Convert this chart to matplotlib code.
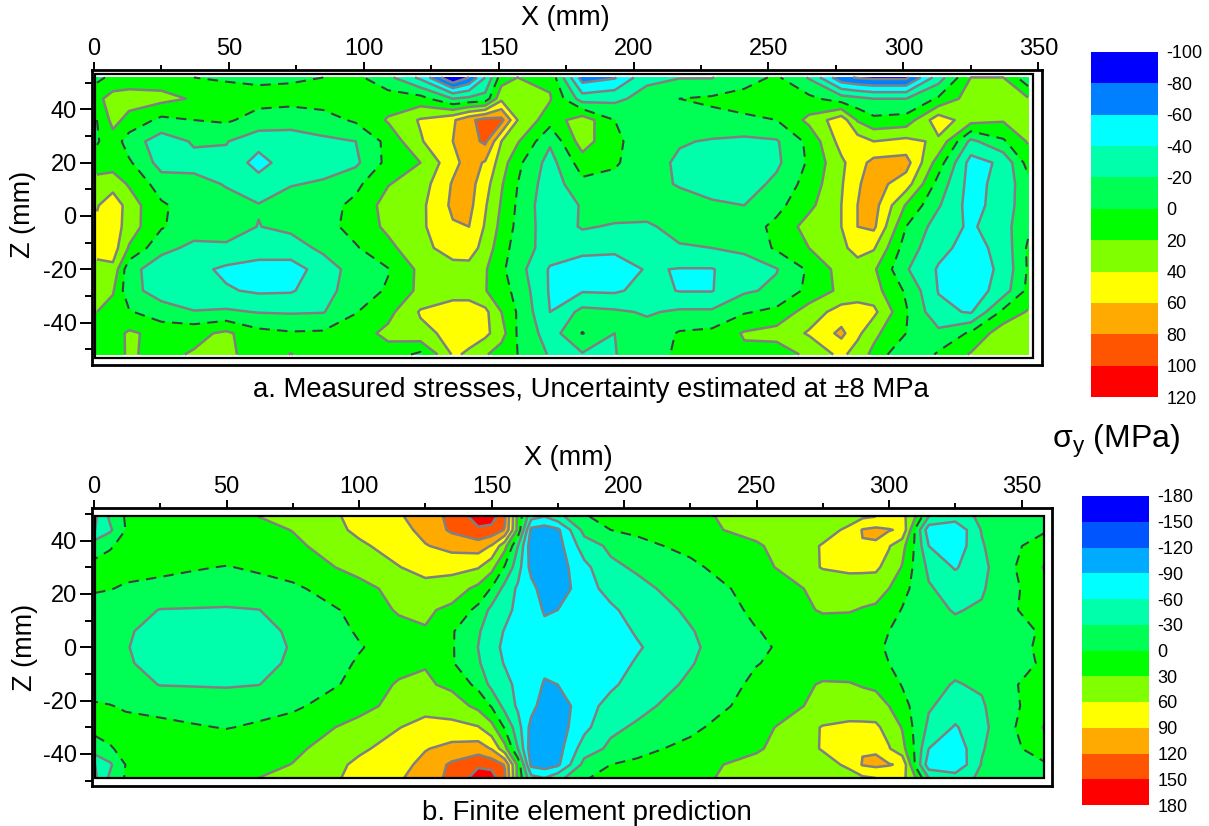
import matplotlib
matplotlib.use("Agg")
import matplotlib.pyplot as plt
from matplotlib.colors import ListedColormap
from matplotlib.patches import Rectangle
from matplotlib.ticker import MultipleLocator
import numpy as np

W, H = 1209, 826
plt.rcParams['font.family'] = ['Liberation Sans', 'DejaVu Sans']
plt.rcParams['axes.unicode_minus'] = False
plt.rcParams['mathtext.fontset'] = 'custom'
plt.rcParams['mathtext.rm'] = 'Liberation Sans'

# colour bands
colors_a = ['#0000ff', '#0080ff', '#00ffff', '#00ffaa', '#00ff55', '#00ff00',
            '#80ff00', '#ffff00', '#ffaa00', '#ff5500', '#ff0000']
colors_b = ['#0000ff', '#0055ff', '#00aaff', '#00ffff', '#00ffaa', '#00ff55',
            '#00ff00', '#80ff00', '#ffff00', '#ffaa00', '#ff5500', '#ff0000']
levels_a = [-100, -80, -60, -40, -20, 0, 20, 40, 60, 80, 100, 120]
levels_b = [-180, -150, -120, -90, -60, -30, 0, 30, 60, 90, 120, 150, 180]

# measured stresses (rows from z=52 down to z=-52)
x_a = [1.1, 7, 13, 25, 37, 49, 61, 73, 85, 97, 109, 121, 133, 139, 145, 151, 157, 169,
       181, 193, 205, 217, 229, 241, 253, 265, 277, 283, 289, 301, 313, 325, 337, 346.2]
z_a = [52, 44, 36, 28, 20, 12, 4, -4, -12, -20, -28, -36, -44, -52]
sigma_a = [
    [-5, 5, 10, 10, 0, -2, -4, -3, 0, 5, -15, -45, -100, -80, -40, 10, 20, 15, -70, -62, -25, -21, -21, -8, 3, -22, -75, -82, -85, -85, -30, 20, 20, -15],
    [15, 28, 28, 26, 18, 8, 7, 8, 9, 9, 10, 8, -20, -15, -12, 35, 38, 22, -30, -25, -12, 0, 3, 7, 10, 5, -10, -15, -20, -20, 3, 30, 28, 22],
    [0, 26, 14, -5, 0, 3, -8, -14, -8, 3, 22, 42, 57, 75, 88, 86, 40, 8, 32, 0, -8, 0, -5, -3, 0, 25, 52, 18, 5, 8, 52, 28, 22, 25],
    [-2, 12, -10, -30, -18, -19, -32, -27, -24, -20, 6, 38, 60, 72, 84, 40, 22, -17, 30, 3, -8, -18, -22, -25, -22, 5, 48, 50, 40, 46, 36, -25, -3, 22],
    [10, 12, 3, -28, -25, -25, -48, -28, -27, -24, 6, 20, 54, 68, 58, 30, 5, -28, 10, 2, -10, -24, -30, -30, -24, 3, 36, 52, 66, 68, 10, -48, -36, 8],
    [28, 30, 18, -10, -15, -21, -31, -21, -18, -5, 19, 30, 62, 68, 48, 22, 0, -32, -5, -5, -12, -22, -28, -30, -15, 8, 38, 58, 68, 50, -8, -48, -32, -7],
    [38, 55, 30, 3, -10, -15, -19, -12, -8, 5, 28, 35, 64, 66, 42, 18, -3, -35, -18, -10, -10, -10, -17, -20, -6, 15, 40, 60, 68, 18, -18, -48, -30, -8],
    [45, 52, 30, 2, -12, -12, -20.5, -15, -8, 8, 24, 36, 58, 60, 38, 14, -5, -32, -18, -22, -23, -13, -10, -10, 5, 28, 40, 60, 64, 0, -30, -43, -28, -4],
    [48, 50, 18, -15, -24, -23, -30, -30, -15, -2, 15, 33, 50, 50, 32, 8, -8, -30, -33, -35, -30, -22, -20, -16, 3, 20, 35, 48, 42, -10, -34, -48, -33, 3],
    [33, 35, -14, -30, -34, -44, -48, -48, -32, -10, -1, 25, 32, 33, 22, 4, -12, -42, -52, -52, -38, -41, -41, -30, -21, 3, 28, 30, 23, -18, -42, -52, -35, 2],
    [25, 22, -14, -28, -34, -38, -43, -42, -28, -9, 2, 25, 30, 30, 21, 8, -6, -42, -42, -43, -33, -41, -41, -23, -16, 5, 25, 28, 28, -3, -41, -52, -30, 5],
    [20, 12, 2, -12, -19, -17, -21, -22, -21, -1, 14, 42, 52, 52, 45, 20, -2, -40, -14, -17, -22, -17, -17, -2, 5, 30, 48, 50, 45, 2, -35, -42, 5, 22],
    [5, 12, 23, 14, 14, 24, 6, 2, 3, 11, 25, 35, 45, 45, 45, 28, -2, -30, 1, -20, -13, 2, 5, 22, 28, 42, 65, 45, 25, 0, -15, 3, 32, 35],
    [3, 14, 22, 15, 22, 26, 8, 21, 5, 5, 12, -5, 42, 38, 22, 10, 0, -22, -22, -21, -5, 2, 3, 16, 8, 25, 45, 30, 15, -20, 3, 22, 32, 32],
]

# FE prediction, upper half (z=49 down to z=0), the map is mirrored about z=0
x_b = [0.4, 6, 12, 25, 37, 50, 62, 75, 100, 115, 125, 135, 145, 150, 155, 160, 165, 170, 175,
       185, 195, 205, 225, 250, 275, 285, 290, 295, 300, 305, 310, 315, 325, 335, 345, 358.5]
z_b_upper = [49, 44, 38, 30, 22, 14, 6, 0]
sigma_b_upper = [
    [-65, -25, 3, 8, 10, 15, 30, 38, 68, 85, 110, 125, 165, 165, 125, 20, -50, -60, -40, -2, 8, 8, 24, 40, 45, 50, 55, 60, 65, 70, 30, -30, -45, -24, -18, -5],
    [-60, -35, 1, 8, 10, 12, 20, 31, 66, 78, 100, 125, 145, 140, 118, 20, -98, -105, -96, -20, 0, 4, 20, 40, 50, 65, 92, 97, 92, 85, -5, -78, -85, -28, -18, -2],
    [-12, -2, 6, 9, 11, 13, 17, 23, 55, 72, 88, 100, 105, 88, 40, -30, -108, -113, -102, -45, -24, -6, 6, 26, 62, 78, 88, 86, 62, 40, -5, -60, -80, -33, -5, 8],
    [8, 8, 8, 5, 2, -1, 3, 12, 40, 59, 70, 68, 62, 40, -3, -48, -100, -110, -105, -68, -36, -26, -5, 18, 62, 66, 66, 65, 50, 28, -8, -36, -63, -38, -8, 32],
    [3, 1, -3, -6, -9, -12, -8, -5, 20, 40, 50, 46, 22, -2, -40, -65, -80, -105, -108, -72, -50, -38, -16, 10, 38, 45, 44, 44, 30, 12, -10, -27, -42, -34, -5, 10],
    [-12, -14, -18, -31, -32, -33, -30.5, -20, 8, 34, 35, 23, -8, -38, -50, -68, -80, -92, -90, -75, -65, -48, -25, 6, 33, 32, 28, 24, 16, -2, -12, -22, -32, -26, -3, 8],
    [-18, -22, -28, -36, -40, -42, -36, -27, 3, 18, 28, 3, -27, -45, -62, -70, -75, -85, -85, -75, -72, -57, -32, -1, 15, 15, 10, 4, 0, -8, -10, -14, -22, -18, -10, 3],
    [-20, -24, -29, -38, -43, -45, -40, -28, -2, 13, 17, 3, -30.5, -50, -66, -70, -72, -82, -80, -72, -72, -63, -35, -3, 10, 11, 6, 3, -2, -9, -8, -11, -16, -15, -8, 4],
]

ticks_x = [0, 50, 100, 150, 200, 250, 300, 350]
ticks_z = [-40, -20, 0, 20, 40]


def px_axes(fig, left, top, right, bottom):
    # axes placed by pixel edges of the figure
    return fig.add_axes([left / W, 1 - bottom / H, (right - left) / W, (bottom - top) / H])


def contour_panel(fig, box, inner, x0, sx, z0, sz, x, z, sigma, levels, colors):
    left, top, right, bottom = box
    ax = px_axes(fig, left, top, right, bottom)
    ax.set_xlim((left - x0) / sx, (right - x0) / sx)
    ax.set_ylim((z0 - bottom) / sz, (z0 - top) / sz)

    data = np.array(sigma, dtype=float)[::-1]
    z = np.array(z, dtype=float)[::-1]
    ax.contourf(x, z, data, levels=levels, colors=colors, extend='both')
    others = [v for v in levels if v != 0]
    ax.contour(x, z, data, levels=others, colors='#808080', linewidths=1.8, linestyles='solid')
    ax.contour(x, z, data, levels=[0], colors='#404040', linewidths=1.5, linestyles=[(0, (5, 3.5))])

    # inner line of the double frame
    il, it, ir, ib = inner
    ax.add_patch(Rectangle(((il - x0) / sx, (z0 - ib) / sz), (ir - il) / sx, (ib - it) / sz,
                           fill=False, ec='black', lw=1.6, zorder=5))

    ax.xaxis.tick_top()
    ax.set_xticks(ticks_x)
    ax.set_yticks(ticks_z)
    ax.set_yticklabels([str(v) for v in ticks_z])
    ax.xaxis.set_minor_locator(MultipleLocator(25))
    ax.yaxis.set_minor_locator(MultipleLocator(10))
    ax.tick_params(axis='x', which='major', length=6, width=1.4, labelsize=17, pad=1)
    ax.tick_params(axis='x', which='minor', length=3.5, width=1.4)
    ax.tick_params(axis='y', which='major', length=9, width=1.4, labelsize=17, pad=2)
    ax.tick_params(axis='y', which='minor', length=5, width=1.4)
    for s in ax.spines.values():
        s.set_linewidth(2.0)
    return ax


def color_key(fig, box, levels, colors, size):
    ax = px_axes(fig, *box)
    ax.pcolormesh([0, 1], levels, np.arange(len(colors)).reshape(-1, 1), cmap=ListedColormap(colors))
    ax.set_ylim(levels[-1], levels[0])
    ax.set_xticks([])
    ax.yaxis.tick_right()
    ax.set_yticks(levels)
    ax.set_yticklabels([str(v) for v in levels])
    ax.tick_params(axis='y', length=0, labelsize=size, pad=6)
    for s in ax.spines.values():
        s.set_visible(False)


def label(fig, px, py, s, size, **kw):
    fig.text(px / W, 1 - py / H, s, fontsize=size, ha='center', va='center', **kw)


fig = plt.figure(figsize=(W / 100, H / 100), dpi=100)

contour_panel(fig, (92, 70, 1042, 365), (95, 74, 1033, 358), 94, 2.698, 216, 2.665,
              x_a, z_a, sigma_a, levels_a, colors_a)
z_b = z_b_upper + [-v for v in z_b_upper[-2::-1]]
sigma_b = sigma_b_upper + sigma_b_upper[-2::-1]
contour_panel(fig, (92, 508, 1052, 786), (95, 516, 1044, 778), 94, 2.65, 647.3, 2.667,
              x_b, z_b, sigma_b, levels_b, colors_b)

color_key(fig, (1091, 52, 1158, 397), levels_a, colors_a, 13)
color_key(fig, (1082, 496, 1149, 805), levels_b, colors_b, 13)

label(fig, 565, 18, 'X (mm)', 19.5)
label(fig, 568, 458, 'X (mm)', 19.5)
label(fig, 23, 214, 'Z (mm)', 19.5, rotation=90)
label(fig, 25, 647, 'Z (mm)', 19.5, rotation=90)
label(fig, 591, 390, 'a. Measured stresses, Uncertainty estimated at ±8 MPa', 19.8)
label(fig, 587, 813, 'b. Finite element prediction', 19.8)
label(fig, 1116, 441, r'$\mathrm{\sigma_y}$ (MPa)', 23)

fig.savefig('out.png', dpi=100)
